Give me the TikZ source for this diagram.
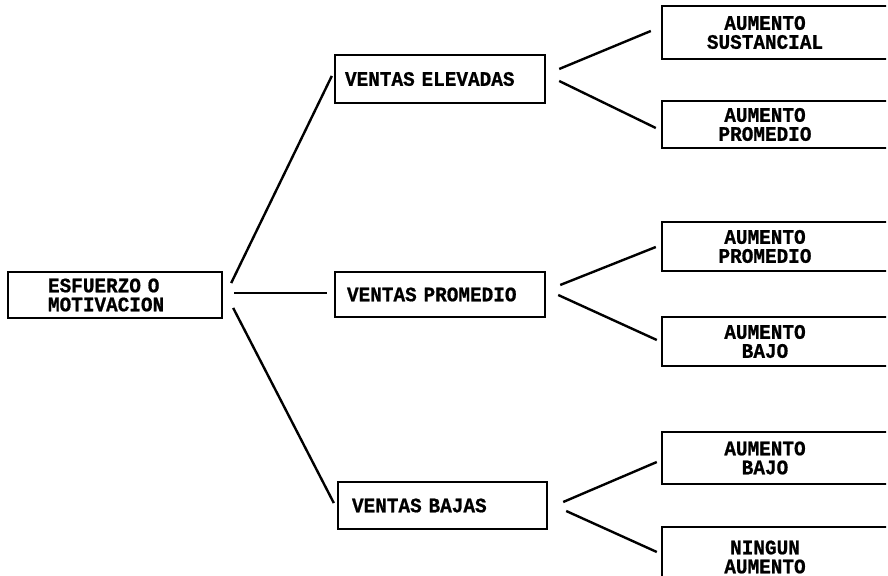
\documentclass[tikz,border=0pt]{standalone}
\usepackage{fontspec}
\setmainfont{Liberation Mono}[FakeStretch=0.94, WordSpace=1.5, BoldFeatures={FakeBold=0.8}]
\begin{document}
\begin{tikzpicture}[x=0.5pt, y=-0.5pt, line width=1.2pt,
  box/.style={draw, rectangle, align=left, inner ysep=0pt, font=\fontsize{10.3}{9.5}\selectfont\bfseries},
  outcome/.style={rectangle, align=center, inner sep=0pt, minimum width=102pt, font=\fontsize{10.3}{9.5}\selectfont\bfseries}]
\useasboundingbox (0,0) rectangle (888,576);
\clip (-10,-10) rectangle (886,586);

\node[box, text width=67pt, inner xsep=20pt, minimum height=23pt] (e) at (115,295) {ESFUERZO O\\MOTIVACION};

\node[box, text width=95pt, inner xsep=5pt, minimum height=24pt] (ve) at (440,79) {VENTAS ELEVADAS};
\node[box, text width=93pt, inner xsep=6pt, minimum height=22.5pt] (vp) at (440,294.5) {VENTAS PROMEDIO};
\node[box, text width=90.5pt, inner xsep=7pt, minimum height=23.5pt] (vb) at (442.5,505.5) {VENTAS BAJAS};

\node[outcome, minimum height=25.5pt] (a1) at (765,32.5) {AUMENTO\\SUSTANCIAL};
\node[outcome, minimum height=22.5pt] (a2) at (765,124.5) {AUMENTO\\PROMEDIO};
\node[outcome, minimum height=23.5pt] (a3) at (765,246.5) {AUMENTO\\PROMEDIO};
\node[outcome, minimum height=23.5pt] (a4) at (765,341.5) {AUMENTO\\BAJO};
\node[outcome, minimum height=25pt] (a5) at (765,458) {AUMENTO\\BAJO};
\node[outcome, minimum height=29pt] (a6) at (765,557) {NINGUN\\AUMENTO};

% boxes open to the right
\foreach \a in {a1,a2,a3,a4,a5,a6}
  \draw ([xshift=20pt]\a.north east) -- (\a.north west) -- (\a.south west) -- ([xshift=20pt]\a.south east);

\draw ([xshift=4pt, yshift=6pt]e.east) -- ([xshift=-1pt, yshift=1.5pt]ve.west);
\draw ([xshift=5.5pt, yshift=1pt]e.east) -- ([xshift=-3.5pt, yshift=0.75pt]vp.west);
\draw ([xshift=5pt, yshift=-6.5pt]e.east) -- ([xshift=-1.5pt, yshift=1.25pt]vb.west);

\draw ([xshift=6.5pt, yshift=5pt]ve.east) -- ([xshift=-5.5pt, yshift=0.75pt]a1.west);
\draw ([xshift=6.5pt, yshift=-1pt]ve.east) -- ([xshift=-3pt, yshift=-1.75pt]a2.west);
\draw ([xshift=7pt, yshift=4.75pt]vp.east) -- ([xshift=-3pt, yshift=-0.25pt]a3.west);
\draw ([xshift=6pt, yshift=-0.25pt]vp.east) -- ([xshift=-2.5pt, yshift=0.75pt]a4.west);
\draw ([xshift=7.5pt, yshift=1.75pt]vb.east) -- ([xshift=-2.5pt, yshift=-2pt]a5.west);
\draw ([xshift=9pt, yshift=-2.75pt]vb.east) -- ([xshift=-2.5pt, yshift=2.5pt]a6.west);
\end{tikzpicture}
\end{document}
